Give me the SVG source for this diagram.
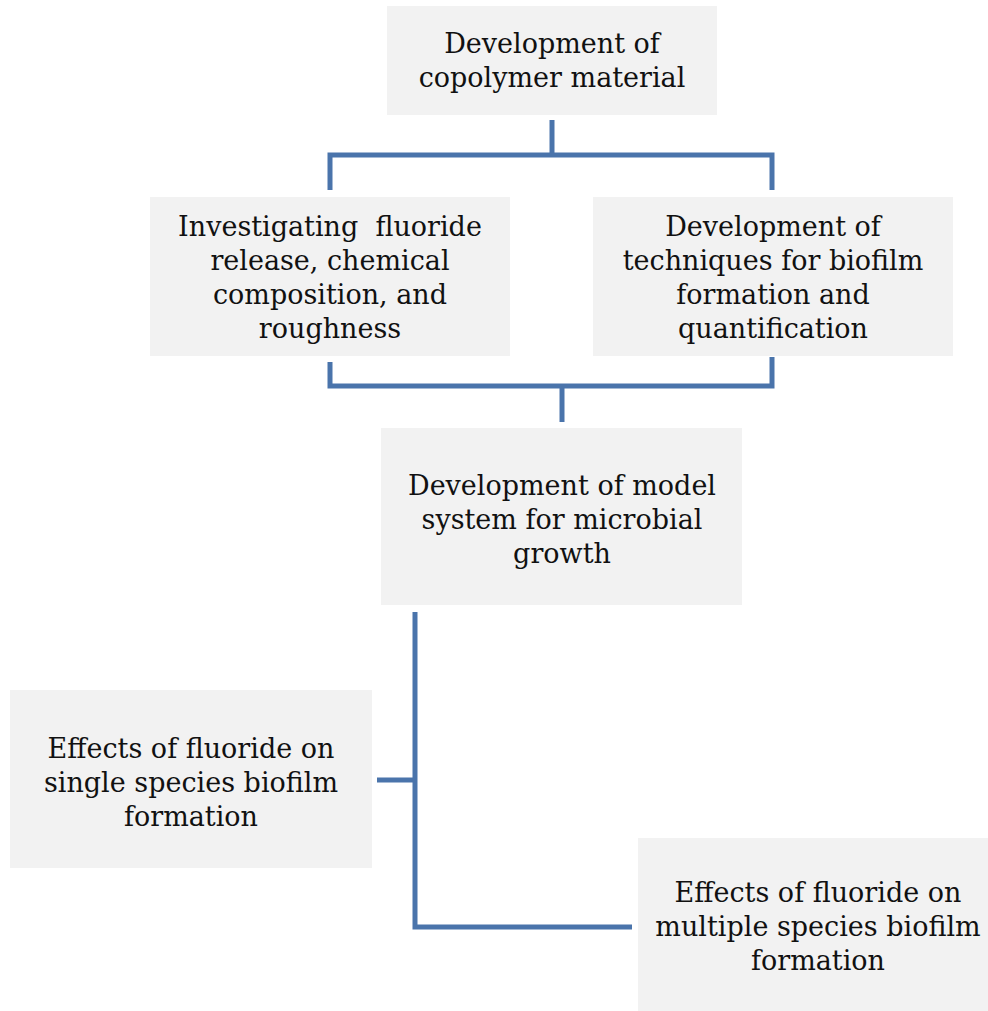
<svg xmlns="http://www.w3.org/2000/svg" width="988" height="1011" viewBox="0 0 988 1011">
<style>
.box{fill:#f2f2f2}
.t{font-family:"DejaVu Serif","Liberation Serif",serif;font-size:27px;fill:#111;text-anchor:middle}
.c{fill:none;stroke:#4a74ab;stroke-width:5;stroke-linejoin:miter}
</style>
<rect width="988" height="1011" fill="#ffffff"/>
<g id="connectors">
<path class="c" d="M552,120 V155 M330,190 V155 H772 V190"/>
<path class="c" d="M330,362 V386 H772 V357 M562,386 V422"/>
<path class="c" d="M415,612 V927 H632 M377,780 H415"/>
</g>
<g id="n1">
<rect class="box" x="387" y="6" width="330" height="109"/>
<text class="t" x="552" y="53">Development of</text>
<text class="t" x="552" y="87">copolymer material</text>
</g>
<g id="n2">
<rect class="box" x="150" y="197" width="360" height="159"/>
<text class="t" x="330" y="236" xml:space="preserve">Investigating  fluoride</text>
<text class="t" x="330" y="270">release, chemical</text>
<text class="t" x="330" y="304">composition, and</text>
<text class="t" x="330" y="338">roughness</text>
</g>
<g id="n3">
<rect class="box" x="593" y="197" width="360" height="159"/>
<text class="t" x="773" y="236">Development of</text>
<text class="t" x="773" y="270">techniques for biofilm</text>
<text class="t" x="773" y="304">formation and</text>
<text class="t" x="773" y="338">quantification</text>
</g>
<g id="n4">
<rect class="box" x="381" y="428" width="361" height="177"/>
<text class="t" x="562" y="495">Development of model</text>
<text class="t" x="562" y="529">system for microbial</text>
<text class="t" x="562" y="563">growth</text>
</g>
<g id="n5">
<rect class="box" x="10" y="690" width="362" height="178"/>
<text class="t" x="191" y="758">Effects of fluoride on</text>
<text class="t" x="191" y="792">single species biofilm</text>
<text class="t" x="191" y="826">formation</text>
</g>
<g id="n6">
<rect class="box" x="638" y="838" width="350" height="173"/>
<text class="t" x="818" y="902">Effects of fluoride on</text>
<text class="t" x="818" y="936">multiple species biofilm</text>
<text class="t" x="818" y="970">formation</text>
</g>
</svg>
